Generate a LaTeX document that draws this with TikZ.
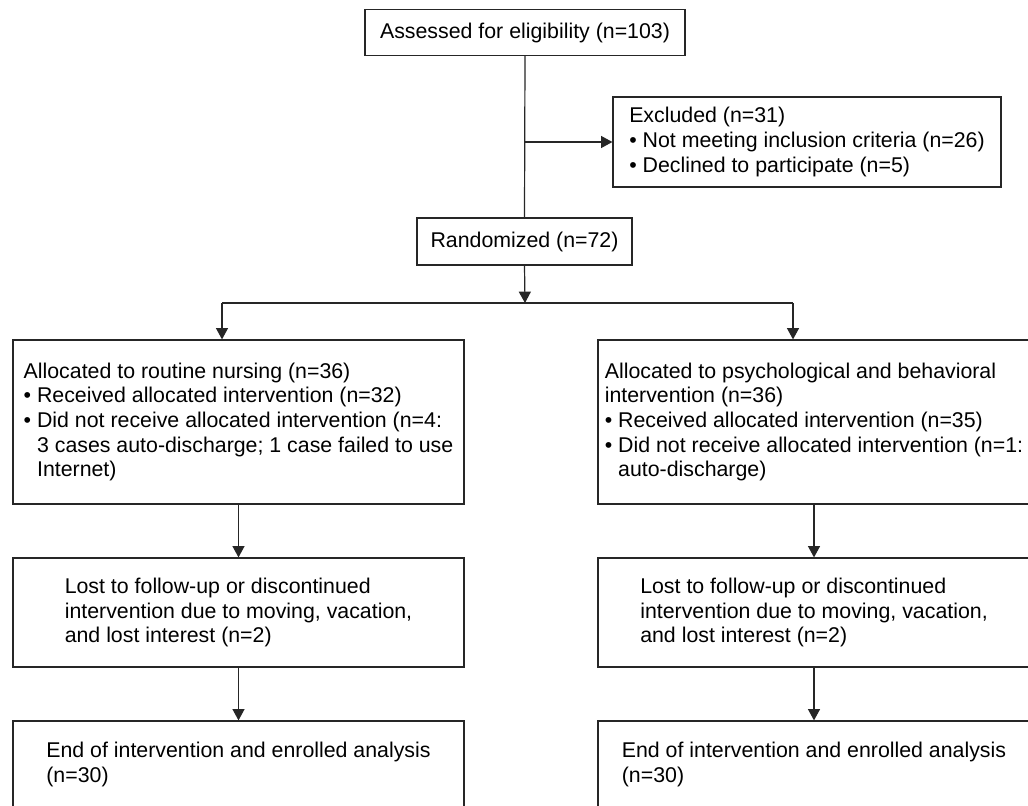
\documentclass[tikz,border=0pt]{standalone}
\usepackage{fontspec}
\setmainfont{Liberation Sans}
\usetikzlibrary{arrows.meta}
\newcommand{\hang}{\phantom{•\ }}
\begin{document}
\begin{tikzpicture}[x=0.75pt,y=-0.75pt,
  box/.style={draw=black!85, line width=0.9pt, align=left, inner sep=2pt,
    font=\fontsize{16pt}{18.5pt}\selectfont},
  arr/.style={-{Triangle[width=9pt,length=8.5pt]}, line width=0.9pt, draw=black!85},
  ln/.style={line width=0.9pt, draw=black!85}]
\useasboundingbox (0,0) rectangle (1028,806);
\clip (0,0) rectangle (1028,806);
\fill[white] (0,0) rectangle (1028,806);

\node[box, minimum width=240pt, minimum height=34.5pt] (top) at (525,32.5) {Assessed for eligibility (n=103)};
\node[box, minimum width=291pt, minimum height=67.5pt] (excl) at (807,142)
  {Excluded (n=31)\\• Not meeting inclusion criteria (n=26)\\• Declined to participate (n=5)};
\node[box, minimum width=161.25pt, minimum height=35.25pt] (rand) at (524.5,241.5) {Randomized (n=72)};

\node[box, minimum width=338.25pt, minimum height=123pt] (allocL) at (238.5,422)
  {Allocated to routine nursing (n=36)\\• Received allocated intervention (n=32)\\• Did not receive allocated intervention (n=4:\\\hang 3 cases auto-discharge; 1 case failed to use\\\hang Internet)};
\node[box, minimum width=324pt, minimum height=123pt] (allocR) at (814,422)
  {Allocated to psychological and behavioral\\intervention (n=36)\\• Received allocated intervention (n=35)\\• Did not receive allocated intervention (n=1:\\\hang auto-discharge)};

\node[box, minimum width=338.25pt, minimum height=81.75pt] (lostL) at (238.5,612.5)
  {Lost to follow-up or discontinued\\intervention due to moving, vacation,\\and lost interest (n=2)};
\node[box, minimum width=324pt, minimum height=81.75pt] (lostR) at (814,612.5)
  {Lost to follow-up or discontinued\\intervention due to moving, vacation,\\and lost interest (n=2)};

\node[box, minimum width=338.25pt, minimum height=65.25pt] (endL) at (238.5,764.5)
  {End of intervention and enrolled analysis\\(n=30)};
\node[box, minimum width=324pt, minimum height=65.25pt] (endR) at (814,764.5)
  {End of intervention and enrolled analysis\\(n=30)};

% connectors
\draw[ln] (top.south) -- (rand.north);
\coordinate (ex) at (top.south |- excl.west);
\draw[arr] (ex) -- (excl.west);

\coordinate (split) at (525,303);
\coordinate (sl) at (222,303);
\coordinate (sr) at (793,303);
\draw[arr] (rand.south) -- (split);
\draw[ln] (sl) -- (sr);
\draw[arr] (sl) -- (sl |- allocL.north);
\draw[arr] (sr) -- (sr |- allocR.north);

\draw[arr] (allocL.south) -- (lostL.north);
\draw[arr] (allocR.south) -- (lostR.north);
\draw[arr] (lostL.south) -- (endL.north);
\draw[arr] (lostR.south) -- (endR.north);
\end{tikzpicture}
\end{document}
